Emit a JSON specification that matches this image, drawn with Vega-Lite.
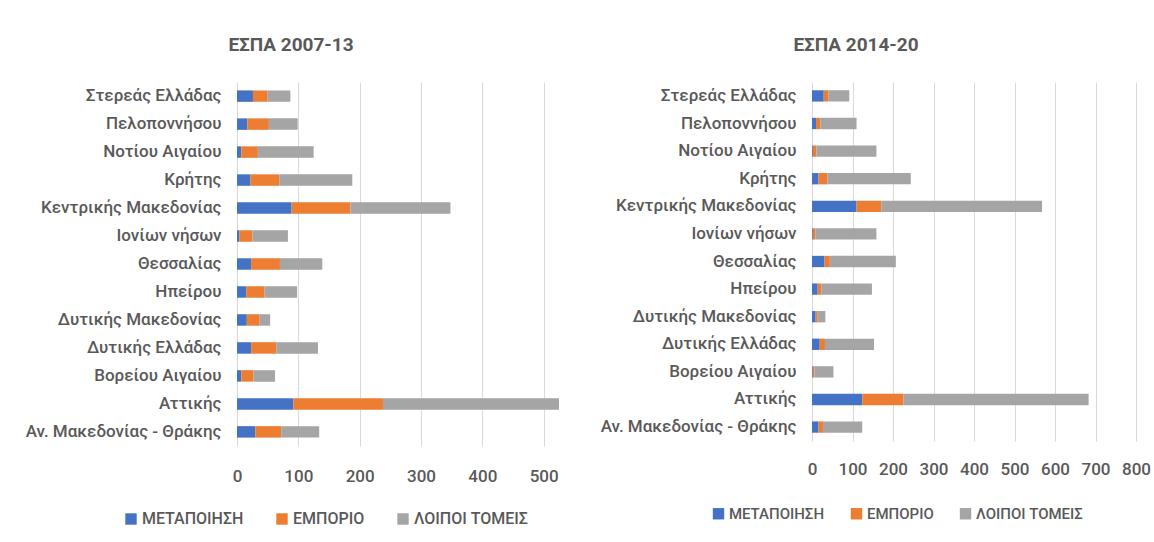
{
  "$schema": "https://vega.github.io/schema/vega-lite/v6.json",
  "padding": {"left": 0, "top": 36, "right": 0, "bottom": 0},
  "background": "white",
  "datasets": {
    "d": [
      {"p": "2007-13", "region": "Στερεάς Ελλάδας", "sector": "ΜΕΤΑΠΟΙΗΣΗ", "value": 26},
      {"p": "2007-13", "region": "Στερεάς Ελλάδας", "sector": "ΕΜΠΟΡΙΟ", "value": 24},
      {"p": "2007-13", "region": "Στερεάς Ελλάδας", "sector": "ΛΟΙΠΟΙ ΤΟΜΕΙΣ", "value": 37},
      {"p": "2007-13", "region": "Πελοποννήσου", "sector": "ΜΕΤΑΠΟΙΗΣΗ", "value": 17},
      {"p": "2007-13", "region": "Πελοποννήσου", "sector": "ΕΜΠΟΡΙΟ", "value": 35},
      {"p": "2007-13", "region": "Πελοποννήσου", "sector": "ΛΟΙΠΟΙ ΤΟΜΕΙΣ", "value": 47},
      {"p": "2007-13", "region": "Νοτίου Αιγαίου", "sector": "ΜΕΤΑΠΟΙΗΣΗ", "value": 7},
      {"p": "2007-13", "region": "Νοτίου Αιγαίου", "sector": "ΕΜΠΟΡΙΟ", "value": 27},
      {"p": "2007-13", "region": "Νοτίου Αιγαίου", "sector": "ΛΟΙΠΟΙ ΤΟΜΕΙΣ", "value": 91},
      {"p": "2007-13", "region": "Κρήτης", "sector": "ΜΕΤΑΠΟΙΗΣΗ", "value": 22},
      {"p": "2007-13", "region": "Κρήτης", "sector": "ΕΜΠΟΡΙΟ", "value": 47},
      {"p": "2007-13", "region": "Κρήτης", "sector": "ΛΟΙΠΟΙ ΤΟΜΕΙΣ", "value": 119},
      {"p": "2007-13", "region": "Κεντρικής Μακεδονίας", "sector": "ΜΕΤΑΠΟΙΗΣΗ", "value": 89},
      {"p": "2007-13", "region": "Κεντρικής Μακεδονίας", "sector": "ΕΜΠΟΡΙΟ", "value": 96},
      {"p": "2007-13", "region": "Κεντρικής Μακεδονίας", "sector": "ΛΟΙΠΟΙ ΤΟΜΕΙΣ", "value": 163},
      {"p": "2007-13", "region": "Ιονίων νήσων", "sector": "ΜΕΤΑΠΟΙΗΣΗ", "value": 4},
      {"p": "2007-13", "region": "Ιονίων νήσων", "sector": "ΕΜΠΟΡΙΟ", "value": 21},
      {"p": "2007-13", "region": "Ιονίων νήσων", "sector": "ΛΟΙΠΟΙ ΤΟΜΕΙΣ", "value": 58},
      {"p": "2007-13", "region": "Θεσσαλίας", "sector": "ΜΕΤΑΠΟΙΗΣΗ", "value": 23},
      {"p": "2007-13", "region": "Θεσσαλίας", "sector": "ΕΜΠΟΡΙΟ", "value": 47},
      {"p": "2007-13", "region": "Θεσσαλίας", "sector": "ΛΟΙΠΟΙ ΤΟΜΕΙΣ", "value": 69},
      {"p": "2007-13", "region": "Ηπείρου", "sector": "ΜΕΤΑΠΟΙΗΣΗ", "value": 15},
      {"p": "2007-13", "region": "Ηπείρου", "sector": "ΕΜΠΟΡΙΟ", "value": 30},
      {"p": "2007-13", "region": "Ηπείρου", "sector": "ΛΟΙΠΟΙ ΤΟΜΕΙΣ", "value": 53},
      {"p": "2007-13", "region": "Δυτικής Μακεδονίας", "sector": "ΜΕΤΑΠΟΙΗΣΗ", "value": 16},
      {"p": "2007-13", "region": "Δυτικής Μακεδονίας", "sector": "ΕΜΠΟΡΙΟ", "value": 21},
      {"p": "2007-13", "region": "Δυτικής Μακεδονίας", "sector": "ΛΟΙΠΟΙ ΤΟΜΕΙΣ", "value": 17},
      {"p": "2007-13", "region": "Δυτικής Ελλάδας", "sector": "ΜΕΤΑΠΟΙΗΣΗ", "value": 23},
      {"p": "2007-13", "region": "Δυτικής Ελλάδας", "sector": "ΕΜΠΟΡΙΟ", "value": 41},
      {"p": "2007-13", "region": "Δυτικής Ελλάδας", "sector": "ΛΟΙΠΟΙ ΤΟΜΕΙΣ", "value": 68},
      {"p": "2007-13", "region": "Βορείου Αιγαίου", "sector": "ΜΕΤΑΠΟΙΗΣΗ", "value": 7},
      {"p": "2007-13", "region": "Βορείου Αιγαίου", "sector": "ΕΜΠΟΡΙΟ", "value": 20},
      {"p": "2007-13", "region": "Βορείου Αιγαίου", "sector": "ΛΟΙΠΟΙ ΤΟΜΕΙΣ", "value": 35},
      {"p": "2007-13", "region": "Αττικής", "sector": "ΜΕΤΑΠΟΙΗΣΗ", "value": 92},
      {"p": "2007-13", "region": "Αττικής", "sector": "ΕΜΠΟΡΙΟ", "value": 146},
      {"p": "2007-13", "region": "Αττικής", "sector": "ΛΟΙΠΟΙ ΤΟΜΕΙΣ", "value": 287},
      {"p": "2007-13", "region": "Αν. Μακεδονίας - Θράκης", "sector": "ΜΕΤΑΠΟΙΗΣΗ", "value": 30},
      {"p": "2007-13", "region": "Αν. Μακεδονίας - Θράκης", "sector": "ΕΜΠΟΡΙΟ", "value": 42},
      {"p": "2007-13", "region": "Αν. Μακεδονίας - Θράκης", "sector": "ΛΟΙΠΟΙ ΤΟΜΕΙΣ", "value": 62},
      {"p": "2014-20", "region": "Στερεάς Ελλάδας", "sector": "ΜΕΤΑΠΟΙΗΣΗ", "value": 29},
      {"p": "2014-20", "region": "Στερεάς Ελλάδας", "sector": "ΕΜΠΟΡΙΟ", "value": 11},
      {"p": "2014-20", "region": "Στερεάς Ελλάδας", "sector": "ΛΟΙΠΟΙ ΤΟΜΕΙΣ", "value": 52},
      {"p": "2014-20", "region": "Πελοποννήσου", "sector": "ΜΕΤΑΠΟΙΗΣΗ", "value": 10},
      {"p": "2014-20", "region": "Πελοποννήσου", "sector": "ΕΜΠΟΡΙΟ", "value": 11},
      {"p": "2014-20", "region": "Πελοποννήσου", "sector": "ΛΟΙΠΟΙ ΤΟΜΕΙΣ", "value": 89},
      {"p": "2014-20", "region": "Νοτίου Αιγαίου", "sector": "ΜΕΤΑΠΟΙΗΣΗ", "value": 2},
      {"p": "2014-20", "region": "Νοτίου Αιγαίου", "sector": "ΕΜΠΟΡΙΟ", "value": 9},
      {"p": "2014-20", "region": "Νοτίου Αιγαίου", "sector": "ΛΟΙΠΟΙ ΤΟΜΕΙΣ", "value": 148},
      {"p": "2014-20", "region": "Κρήτης", "sector": "ΜΕΤΑΠΟΙΗΣΗ", "value": 16},
      {"p": "2014-20", "region": "Κρήτης", "sector": "ΕΜΠΟΡΙΟ", "value": 22},
      {"p": "2014-20", "region": "Κρήτης", "sector": "ΛΟΙΠΟΙ ΤΟΜΕΙΣ", "value": 206},
      {"p": "2014-20", "region": "Κεντρικής Μακεδονίας", "sector": "ΜΕΤΑΠΟΙΗΣΗ", "value": 110},
      {"p": "2014-20", "region": "Κεντρικής Μακεδονίας", "sector": "ΕΜΠΟΡΙΟ", "value": 61},
      {"p": "2014-20", "region": "Κεντρικής Μακεδονίας", "sector": "ΛΟΙΠΟΙ ΤΟΜΕΙΣ", "value": 397},
      {"p": "2014-20", "region": "Ιονίων νήσων", "sector": "ΜΕΤΑΠΟΙΗΣΗ", "value": 2},
      {"p": "2014-20", "region": "Ιονίων νήσων", "sector": "ΕΜΠΟΡΙΟ", "value": 6},
      {"p": "2014-20", "region": "Ιονίων νήσων", "sector": "ΛΟΙΠΟΙ ΤΟΜΕΙΣ", "value": 151},
      {"p": "2014-20", "region": "Θεσσαλίας", "sector": "ΜΕΤΑΠΟΙΗΣΗ", "value": 31},
      {"p": "2014-20", "region": "Θεσσαλίας", "sector": "ΕΜΠΟΡΙΟ", "value": 13},
      {"p": "2014-20", "region": "Θεσσαλίας", "sector": "ΛΟΙΠΟΙ ΤΟΜΕΙΣ", "value": 163},
      {"p": "2014-20", "region": "Ηπείρου", "sector": "ΜΕΤΑΠΟΙΗΣΗ", "value": 14},
      {"p": "2014-20", "region": "Ηπείρου", "sector": "ΕΜΠΟΡΙΟ", "value": 9},
      {"p": "2014-20", "region": "Ηπείρου", "sector": "ΛΟΙΠΟΙ ΤΟΜΕΙΣ", "value": 125},
      {"p": "2014-20", "region": "Δυτικής Μακεδονίας", "sector": "ΜΕΤΑΠΟΙΗΣΗ", "value": 9},
      {"p": "2014-20", "region": "Δυτικής Μακεδονίας", "sector": "ΕΜΠΟΡΙΟ", "value": 5},
      {"p": "2014-20", "region": "Δυτικής Μακεδονίας", "sector": "ΛΟΙΠΟΙ ΤΟΜΕΙΣ", "value": 19},
      {"p": "2014-20", "region": "Δυτικής Ελλάδας", "sector": "ΜΕΤΑΠΟΙΗΣΗ", "value": 19},
      {"p": "2014-20", "region": "Δυτικής Ελλάδας", "sector": "ΕΜΠΟΡΙΟ", "value": 13},
      {"p": "2014-20", "region": "Δυτικής Ελλάδας", "sector": "ΛΟΙΠΟΙ ΤΟΜΕΙΣ", "value": 121},
      {"p": "2014-20", "region": "Βορείου Αιγαίου", "sector": "ΜΕΤΑΠΟΙΗΣΗ", "value": 2},
      {"p": "2014-20", "region": "Βορείου Αιγαίου", "sector": "ΕΜΠΟΡΙΟ", "value": 4},
      {"p": "2014-20", "region": "Βορείου Αιγαίου", "sector": "ΛΟΙΠΟΙ ΤΟΜΕΙΣ", "value": 47},
      {"p": "2014-20", "region": "Αττικής", "sector": "ΜΕΤΑΠΟΙΗΣΗ", "value": 124},
      {"p": "2014-20", "region": "Αττικής", "sector": "ΕΜΠΟΡΙΟ", "value": 102},
      {"p": "2014-20", "region": "Αττικής", "sector": "ΛΟΙΠΟΙ ΤΟΜΕΙΣ", "value": 457},
      {"p": "2014-20", "region": "Αν. Μακεδονίας - Θράκης", "sector": "ΜΕΤΑΠΟΙΗΣΗ", "value": 16},
      {"p": "2014-20", "region": "Αν. Μακεδονίας - Θράκης", "sector": "ΕΜΠΟΡΙΟ", "value": 11},
      {"p": "2014-20", "region": "Αν. Μακεδονίας - Θράκης", "sector": "ΛΟΙΠΟΙ ΤΟΜΕΙΣ", "value": 97}
    ]
  },
  "data": {"name": "d"},
  "transform": [
    {"calculate": "indexof(['ΜΕΤΑΠΟΙΗΣΗ', 'ΕΜΠΟΡΙΟ', 'ΛΟΙΠΟΙ ΤΟΜΕΙΣ'], datum.sector)", "as": "stackOrder"}
  ],
  "hconcat": [
    {
      "width": 322,
      "height": 364,
      "title": {"text": "ΕΣΠΑ 2007-13", "dx": -107},
      "transform": [{"filter": "datum.p === '2007-13'"}],
      "mark": {"type": "bar"},
      "encoding": {
        "y": {
          "field": "region", "type": "nominal", "title": null,
          "sort": ["Στερεάς Ελλάδας", "Πελοποννήσου", "Νοτίου Αιγαίου", "Κρήτης", "Κεντρικής Μακεδονίας", "Ιονίων νήσων", "Θεσσαλίας", "Ηπείρου", "Δυτικής Μακεδονίας", "Δυτικής Ελλάδας", "Βορείου Αιγαίου", "Αττικής", "Αν. Μακεδονίας - Θράκης"],
          "scale": {"paddingInner": 0.59, "paddingOuter": 0.3},
          "axis": {"minExtent": 237, "maxExtent": 237}
        },
        "x": {
          "field": "value", "type": "quantitative", "stack": "zero", "title": null,
          "scale": {"domain": [0, 525], "nice": false},
          "axis": {"values": [0, 100, 200, 300, 400, 500], "labelPadding": 22}
        },
        "order": {"field": "stackOrder", "type": "quantitative"},
        "color": {
          "field": "sector", "type": "nominal", "title": null,
          "sort": ["ΜΕΤΑΠΟΙΗΣΗ", "ΕΜΠΟΡΙΟ", "ΛΟΙΠΟΙ ΤΟΜΕΙΣ"],
          "scale": {"domain": ["ΜΕΤΑΠΟΙΗΣΗ", "ΕΜΠΟΡΙΟ", "ΛΟΙΠΟΙ ΤΟΜΕΙΣ"], "range": ["#4472C4", "#ED7D31", "#A5A5A5"]},
          "legend": {"orient": "none", "direction": "horizontal", "legendX": -114, "legendY": 429, "columnPadding": 30, "labelFontSize": 16}
        }
      }
    },
    {
      "width": 324,
      "height": 359,
      "title": {"text": "ΕΣΠΑ 2014-20", "dx": -118},
      "transform": [{"filter": "datum.p === '2014-20'"}],
      "mark": {"type": "bar"},
      "encoding": {
        "y": {
          "field": "region", "type": "nominal", "title": null,
          "sort": ["Στερεάς Ελλάδας", "Πελοποννήσου", "Νοτίου Αιγαίου", "Κρήτης", "Κεντρικής Μακεδονίας", "Ιονίων νήσων", "Θεσσαλίας", "Ηπείρου", "Δυτικής Μακεδονίας", "Δυτικής Ελλάδας", "Βορείου Αιγαίου", "Αττικής", "Αν. Μακεδονίας - Θράκης"],
          "scale": {"paddingInner": 0.59, "paddingOuter": 0.3},
          "axis": {"minExtent": 233, "maxExtent": 233}
        },
        "x": {
          "field": "value", "type": "quantitative", "stack": "zero", "title": null,
          "scale": {"domain": [0, 800], "nice": false},
          "axis": {"values": [0, 100, 200, 300, 400, 500, 600, 700, 800], "labelPadding": 20}
        },
        "order": {"field": "stackOrder", "type": "quantitative"},
        "color": {
          "field": "sector", "type": "nominal", "title": null,
          "sort": ["ΜΕΤΑΠΟΙΗΣΗ", "ΕΜΠΟΡΙΟ", "ΛΟΙΠΟΙ ΤΟΜΕΙΣ"],
          "scale": {"domain": ["ΜΕΤΑΠΟΙΗΣΗ", "ΕΜΠΟΡΙΟ", "ΛΟΙΠΟΙ ΤΟΜΕΙΣ"], "range": ["#4472C4", "#ED7D31", "#A5A5A5"]},
          "legend": {"orient": "none", "direction": "horizontal", "legendX": -101, "legendY": 424, "columnPadding": 24, "labelFontSize": 15}
        }
      }
    }
  ],
  "spacing": 20,
  "resolve": {"scale": {"y": "independent", "x": "independent"}, "legend": {"color": "independent"}},
  "config": {
    "font": "Roboto, sans-serif",
    "view": {"stroke": null},
    "title": {"fontSize": 19, "fontWeight": "bold", "color": "#595959", "anchor": "middle", "frame": "group", "offset": 27, "font": "Roboto, sans-serif"},
    "axis": {"labelFont": "Roboto, sans-serif", "labelColor": "#595959", "labelFontSize": 17, "labelFontWeight": 500, "domain": false, "ticks": false, "labelLimit": 400, "labelOverlap": false, "labelFlush": false},
    "axisY": {"grid": false, "labelPadding": 16},
    "axisX": {"grid": true, "gridColor": "#D9D9D9", "gridWidth": 1},
    "legend": {"labelFont": "Roboto, sans-serif", "labelColor": "#595959", "labelFontWeight": 500, "symbolType": "square", "symbolSize": 130, "symbolStrokeWidth": 0, "symbolOpacity": 1, "labelOffset": 3, "labelLimit": 300}
  }
}
